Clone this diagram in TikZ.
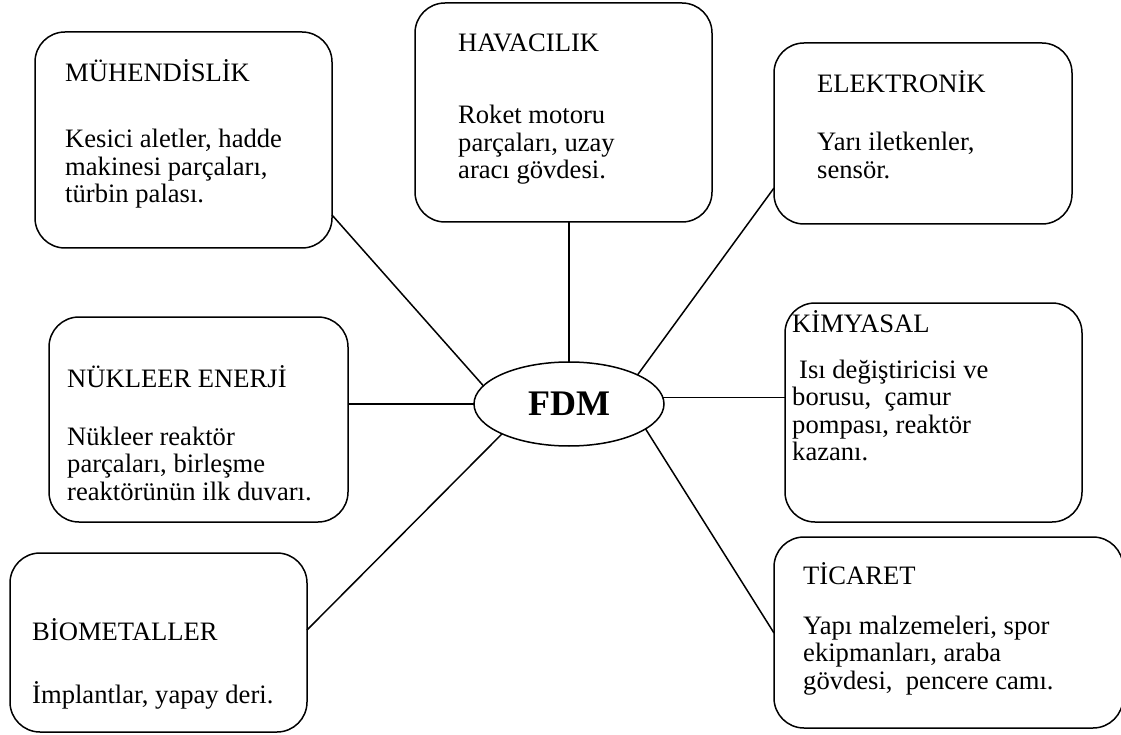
\documentclass[tikz,border=0pt]{standalone}
\usepackage{fontspec}
\setmainfont{Liberation Serif}
\usetikzlibrary{shapes.geometric}
\newcommand{\txtlines}[1]{\begin{tabular}[t]{@{}l@{}}#1\end{tabular}}
\begin{document}
\begin{tikzpicture}[x=1pt,y=-1pt,
  box/.style={draw, line width=1.5pt, rounded corners=30pt, inner sep=0pt, outer sep=0pt},
  ttl/.style={anchor=base west, inner sep=0pt, font=\fontsize{26.6}{27.5}\selectfont},
  body/.style={anchor=base west, inner sep=0pt, font=\fontsize{26.6}{27.5}\selectfont},
  conn/.style={line width=1.5pt}]
\useasboundingbox (0,0) rectangle (1121,735);
\fill[white] (0,0) rectangle (1121,735);

% central ellipse
\node[draw, ellipse, line width=1.5pt, minimum width=190pt, minimum height=84pt,
      inner sep=0pt, outer sep=0pt, font=\fontsize{36}{36}\selectfont\bfseries] (fdm) at (569,404) {FDM};

% boxes
\node[box, minimum width=297pt, minimum height=216pt] (muh) at (183.5,140) {};
\node[box, minimum width=297pt, minimum height=219pt] (hav) at (563.5,112.5) {};
\node[box, minimum width=298pt, minimum height=181pt] (elek) at (923,133.5) {};
\node[box, minimum width=299pt, minimum height=205pt] (nuk) at (198.5,419.5) {};
\node[box, minimum width=297pt, minimum height=219pt] (kim) at (933.5,412.5) {};
\node[box, minimum width=349pt, minimum height=191pt] (tic) at (948.5,632.5) {};
\node[box, minimum width=297pt, minimum height=179pt] (bio) at (158.5,642.5) {};

% texts
\node[ttl] (muht) at (65,82) {MÜHENDİSLİK};
\node[body] (muhb) at (65,148) {\txtlines{Kesici aletler, hadde\\makinesi parçaları,\\türbin palası.}};

\node[ttl] (havt) at (458,52) {HAVACILIK};
\node[body] (havb) at (458,124) {\txtlines{Roket motoru\\parçaları, uzay\\aracı gövdesi.}};

\node[ttl] (elekt) at (817,93) {ELEKTRONİK};
\node[body] (elekb) at (817,151) {\txtlines{Yarı iletkenler,\\sensör.}};

\node[ttl] (nukt) at (67,387) {NÜKLEER ENERJİ};
\node[body] (nukb) at (67,445) {\txtlines{Nükleer reaktör\\parçaları, birleşme\\reaktörünün ilk duvarı.}};

\node[ttl] (kimt) at (792,332) {KİMYASAL};
\node[body] (kimb) at (792,378) {\txtlines{\hspace{7pt}Isı değiştiricisi ve\\borusu,\ \ çamur\\pompası, reaktör\\kazanı.}};

\node[ttl] (tict) at (803,584) {TİCARET};
\node[body] (ticb) at (803,634) {\txtlines{Yapı malzemeleri, spor\\ekipmanları, araba\\gövdesi,\ \ pencere camı.}};

\node[ttl] (biot) at (32,640) {BİOMETALLER};
\node[body] (biob) at (32,703) {İmplantlar, yapay deri.};

% connectors
\draw[conn] ([yshift=33pt]muh.south east) -- (fdm.168);
\draw[conn] (fdm.north) -- (fdm.north |- hav.south);
\draw[conn] ([yshift=36pt]elek.south west) -- (fdm.23);
\draw[conn] (fdm.4) -- (fdm.4 -| kim.west);
\draw[conn] (fdm.west) -- (fdm.west -| nuk.east);
\draw[conn] (fdm.-18) -- ([yshift=-96pt]tic.north west);
\draw[conn] (fdm.-156) -- ([yshift=-77pt]bio.north east);
\end{tikzpicture}
\end{document}
